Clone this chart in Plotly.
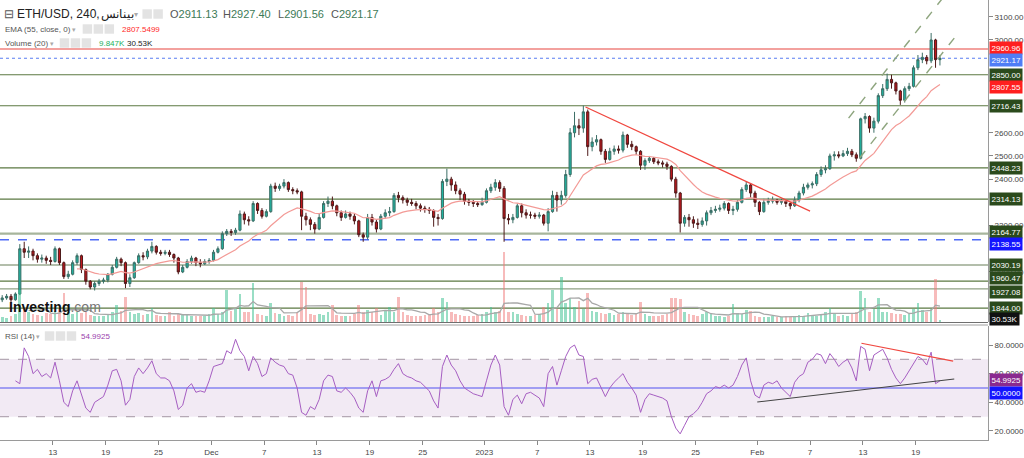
import plotly.graph_objects as go
import pandas as pd

FONT = "Liberation Sans, Arial, sans-serif"

# ---------------- data (12-hour candles) ----------------
first_open = 1880.0
closes = [
    1888, 1895, 1880, 1905, 2100, 2085, 2090, 2070, 2055, 2060,
    2050, 2045, 2100, 2040, 1980, 1990, 2040, 2070, 2010, 1960,
    1935, 1950, 1960, 1965, 1990, 2020, 2055, 2040, 1950, 1975,
    2040, 2070, 2065, 2090, 2110, 2085, 2080, 2085, 2075, 2060,
    2000, 2020, 2045, 2060, 2040, 2035, 2045, 2050, 2085, 2100,
    2165, 2175, 2170, 2180, 2250, 2225, 2220, 2295, 2265, 2240,
    2260, 2370, 2360, 2370, 2385, 2355, 2350, 2345, 2240, 2225,
    2205, 2185, 2235, 2295, 2305, 2285, 2255, 2235, 2250, 2240,
    2220, 2160, 2150, 2235, 2215, 2185, 2240, 2255, 2260, 2330,
    2320, 2310, 2300, 2295, 2285, 2275, 2270, 2265, 2235, 2230,
    2390, 2400, 2375, 2350, 2335, 2305, 2300, 2295, 2290, 2300,
    2350, 2365, 2385, 2360, 2230, 2225, 2235, 2285, 2255, 2245,
    2245, 2240, 2245, 2210, 2260, 2330, 2310, 2330, 2420, 2600,
    2630, 2620, 2690, 2540, 2560, 2570, 2520, 2485, 2520, 2530,
    2525, 2590, 2550, 2540, 2520, 2460, 2480, 2490, 2475, 2470,
    2465, 2455, 2400, 2340, 2210, 2235, 2225, 2210, 2205, 2220,
    2255, 2265, 2270, 2275, 2295, 2265, 2270, 2300, 2355, 2375,
    2340, 2300, 2260, 2300, 2305, 2310, 2300, 2305, 2295, 2285,
    2310, 2340, 2365, 2375, 2380, 2420, 2440, 2445, 2500, 2505,
    2500, 2510, 2520, 2505, 2490, 2660, 2670, 2620, 2650, 2760,
    2790, 2830, 2815, 2780, 2740, 2790, 2800, 2880, 2915, 2925,
    2910, 3000, 2915, 2921.17,
]
highs = [
    1900, 1905, 1905, 1912, 2120, 2130, 2110, 2100, 2080, 2075,
    2070, 2065, 2110, 2105, 2045, 2005, 2050, 2080, 2075, 2015,
    1965, 1960, 1970, 1975, 1995, 2030, 2065, 2062, 2045, 1990,
    2045, 2080, 2085, 2100, 2130, 2115, 2095, 2095, 2095, 2080,
    2065, 2030, 2055, 2070, 2065, 2055, 2055, 2060, 2095, 2110,
    2175, 2185, 2185, 2190, 2265, 2260, 2240, 2305, 2300, 2275,
    2270, 2380, 2385, 2380, 2400, 2390, 2365, 2360, 2350, 2255,
    2235, 2215, 2250, 2305, 2325, 2325, 2290, 2265, 2265, 2260,
    2250, 2225, 2170, 2250, 2250, 2225, 2250, 2270, 2280, 2340,
    2345, 2330, 2320, 2315, 2305, 2295, 2285, 2280, 2270, 2250,
    2400, 2445, 2410, 2390, 2360, 2345, 2315, 2310, 2305, 2320,
    2360, 2380, 2400, 2395, 2370, 2250, 2250, 2295, 2295, 2270,
    2260, 2255, 2258, 2250, 2275, 2350, 2345, 2350, 2440, 2620,
    2690, 2660, 2717, 2700, 2580, 2590, 2575, 2530, 2535, 2545,
    2545, 2605, 2595, 2565, 2545, 2525, 2490, 2500, 2495, 2485,
    2480, 2475, 2460, 2410, 2345, 2245, 2250, 2240, 2230, 2235,
    2265, 2280, 2285, 2290, 2305, 2300, 2285, 2310, 2365, 2390,
    2380, 2350, 2305, 2315, 2320, 2325, 2315, 2315, 2310, 2300,
    2325, 2350, 2380, 2385, 2390, 2430, 2455, 2460, 2510, 2520,
    2520, 2525, 2535, 2530, 2515, 2665, 2685, 2675, 2665, 2770,
    2810, 2855, 2850, 2820, 2785, 2800, 2815, 2890, 2935, 2945,
    2935, 3030, 3005, 2935,
]
lows = [
    1870, 1880, 1868, 1876, 1900, 2060, 2060, 2050, 2040, 2040,
    2035, 2030, 2040, 2030, 1970, 1970, 1985, 2030, 1995, 1945,
    1925, 1920, 1940, 1950, 1955, 1985, 2015, 2025, 1930, 1935,
    1970, 2035, 2050, 2055, 2080, 2075, 2070, 2072, 2065, 2040,
    1990, 1995, 2015, 2035, 2025, 2020, 2030, 2035, 2045, 2080,
    2095, 2155, 2155, 2160, 2175, 2205, 2200, 2215, 2250, 2230,
    2235, 2255, 2345, 2350, 2360, 2345, 2335, 2335, 2180, 2200,
    2180, 2165, 2180, 2230, 2280, 2270, 2240, 2220, 2230, 2225,
    2205, 2150, 2130, 2140, 2200, 2170, 2180, 2230, 2240, 2255,
    2300, 2295, 2285, 2285, 2270, 2260, 2255, 2250, 2195, 2200,
    2225, 2370, 2350, 2335, 2310, 2290, 2285, 2280, 2280, 2285,
    2295, 2340, 2350, 2345, 2130, 2205, 2210, 2230, 2235, 2230,
    2230, 2228, 2230, 2200, 2175, 2255, 2260, 2290, 2320, 2410,
    2580, 2590, 2600, 2500, 2520, 2545, 2505, 2470, 2480, 2505,
    2510, 2515, 2535, 2525, 2505, 2440, 2440, 2470, 2465, 2460,
    2450, 2440, 2390, 2320, 2170, 2195, 2195, 2190, 2185, 2195,
    2200, 2245, 2255, 2260, 2265, 2250, 2245, 2260, 2295, 2345,
    2320, 2280, 2245, 2255, 2290, 2295, 2290, 2290, 2280, 2270,
    2280, 2300, 2330, 2355, 2360, 2370, 2410, 2425, 2440, 2480,
    2490, 2495, 2500, 2495, 2475, 2485, 2640, 2600, 2600, 2640,
    2750, 2780, 2790, 2765, 2720, 2730, 2780, 2795, 2870, 2900,
    2895, 2900, 2880, 2890,
]
volume_k = [
    31, 25, 38, 50, 200, 90, 60, 50, 45, 40,
    55, 50, 70, 80, 180, 60, 50, 60, 56, 60,
    45, 40, 35, 40, 45, 60, 106, 70, 155, 60,
    50, 55, 45, 50, 88, 45, 40, 35, 62, 40,
    50, 45, 50, 40, 35, 40, 35, 50, 88, 50,
    60, 200, 70, 80, 175, 60, 65, 245, 50, 45,
    40, 120, 55, 50, 40, 45, 40, 60, 250, 220,
    50, 45, 50, 45, 60, 106, 45, 40, 35, 40,
    50, 106, 60, 75, 60, 88, 45, 75, 94, 60,
    155, 60, 45, 40, 35, 40, 45, 50, 88, 60,
    150, 125, 60, 50, 45, 40, 35, 40, 45, 50,
    60, 94, 60, 70, 435, 62, 60, 50, 45, 40,
    40, 45, 50, 94, 120, 200, 80, 280, 120, 150,
    94, 130, 80, 180, 70, 60, 55, 50, 55, 45,
    50, 60, 50, 45, 55, 125, 50, 40, 35, 40,
    45, 50, 150, 150, 145, 60, 50, 45, 40, 50,
    62, 55, 40, 35, 30, 35, 110, 55, 50, 75,
    70, 35, 30, 30, 30, 35, 30, 30, 35, 30,
    35, 45, 40, 56, 45, 40, 50, 62, 88, 50,
    40, 45, 40, 50, 60, 195, 150, 60, 80, 150,
    60, 62, 55, 50, 50, 45, 50, 80, 120, 75,
    60, 80, 270, 9.847,
]
rsi_values = [
    None, None, None, 55, 53, 78, 72, 60, 63, 58,
    60, 57, 68, 55, 40, 37, 48, 55, 45, 36,
    33, 40, 42, 44, 52, 62, 63, 55, 38, 42,
    58, 64, 60, 64, 69, 60, 57, 57, 55, 48,
    35, 38, 50, 53, 47, 48, 47, 55, 65, 66,
    67, 76, 74, 84, 76, 72, 62, 72, 67, 58,
    60, 71, 68, 66, 65, 60, 59, 50, 33, 31,
    37, 35, 42, 55, 59, 58, 48, 47, 50, 47,
    43, 36, 33, 48, 55, 44, 55, 56, 58, 63,
    67, 60, 58, 57, 55, 54, 51, 48, 41, 36,
    65, 73, 66, 62, 55, 50, 48, 46, 45, 44,
    55, 66, 73, 66, 37, 31, 42, 45, 39, 46,
    47, 45, 43, 37, 60, 65, 52, 62, 72, 78,
    80, 73, 72, 53, 56, 57, 50, 44, 50, 54,
    57, 60, 54, 50, 45, 33, 42, 46, 45, 44,
    43, 41, 30, 22, 18, 24, 30, 32, 35, 40,
    46, 48, 51, 50, 52, 50, 52, 58, 66, 71,
    55, 45, 43, 52, 54, 53, 55, 50, 47, 44,
    54, 58, 60, 68, 70, 74, 73, 67, 74, 70,
    65, 68, 70, 64, 55, 79, 77, 62, 73, 75,
    77, 71, 63, 57, 53, 57, 62, 67, 72, 70,
    66, 75, 53, 54.9925,
]

level_prices = [2960.96, 2921.17, 2850.00, 2716.43, 2448.23, 2314.13,
                2164.77, 2138.55, 2030.19, 1960.47, 1927.08, 1844.00]
ema_last = 2807.5499
vol_ma_last = 30.53
price_ticks = [2000, 2200, 2400, 2500, 2600, 3000, 3100]
rsi_ticks = [20, 40, 60, 80]
x_tick_dates = ["2022-11-13", "2022-11-19", "2022-11-25", "2022-12-01", "2022-12-07",
                "2022-12-13", "2022-12-19", "2022-12-25", "2023-01-01", "2023-01-07",
                "2023-01-13", "2023-01-19", "2023-01-25", "2023-02-01", "2023-02-07",
                "2023-02-13", "2023-02-19"]
x_tick_labels = ["13", "19", "25", "Dec", "7", "13", "19", "25", "2023", "7",
                 "13", "19", "25", "Feb", "7", "13", "19"]

downtrend_dates = ["2023-01-12 12:00", "2023-02-07 00:00"]
downtrend_prices = [2711, 2262]
channel_upper_dates = ["2023-02-11 09:00", "2023-02-23 14:00"]
channel_upper_prices = [2663, 3254]
channel_lower_dates = ["2023-02-12 15:00", "2023-02-23 09:00"]
channel_lower_prices = [2491, 3008]
rsi_res_dates = ["2023-02-12 20:00", "2023-02-23 06:00"]
rsi_res_values = [81.2, 68.8]
rsi_sup_dates = ["2023-02-01 00:00", "2023-02-23 09:00"]
rsi_sup_values = [40.2, 56.3]

# ---------------- derived ----------------
dates = pd.date_range("2022-11-07 06:00", periods=len(closes), freq="12h")
opens = [first_open] + closes[:-1]
highs = [max(h, o, c) for h, o, c in zip(highs, opens, closes)]
lows = [min(l, o, c) for l, o, c in zip(lows, opens, closes)]
ema_alpha = 1 - (1 - 2 / 56) ** 3          # EMA(55) on 4h bars, expressed on 12h bars
ema = pd.Series(closes).ewm(alpha=ema_alpha, adjust=False).mean()
vol_ma = pd.Series(volume_k).rolling(7).mean()
vol_colors = ["rgba(70,195,150,0.55)" if c >= o else "rgba(240,120,120,0.5)"
              for o, c in zip(opens, closes)]

# ---------------- geometry helpers ----------------
W, H = 992, 440


def px(x):
    return x / W


def py(y):
    return (H - y) / H


MAIN_DOM = [py(322), 1.0]
RSI_DOM = [0.0, py(326)]

fig = go.Figure()

fig.add_trace(go.Bar(x=dates, y=volume_k, marker=dict(color=vol_colors, line=dict(width=0)),
                     width=0.6 * 12 * 3600 * 1000, yaxis="y2", showlegend=False,
                     hoverinfo="skip"))
fig.add_trace(go.Scatter(x=dates[6:], y=vol_ma[6:], mode="lines", yaxis="y2",
                         line=dict(color="#a8a8a8", width=1.3), showlegend=False,
                         hoverinfo="skip"))
fig.add_trace(go.Scatter(x=dates[17:], y=ema[17:], mode="lines", yaxis="y",
                         line=dict(color="#f39a96", width=1.2), showlegend=False,
                         hoverinfo="skip"))
fig.add_trace(go.Candlestick(
    x=dates, open=opens, high=highs, low=lows, close=closes, yaxis="y",
    increasing=dict(line=dict(color="#3c6e66", width=1), fillcolor="#1fb3a0"),
    decreasing=dict(line=dict(color="#4e1a1a", width=1), fillcolor="#c0161c"),
    whiskerwidth=0, showlegend=False, hoverinfo="skip"))
fig.add_trace(go.Scatter(x=downtrend_dates, y=downtrend_prices, mode="lines", yaxis="y",
                         line=dict(color="#f0473f", width=1.3), showlegend=False))
for xs, ys in [(channel_upper_dates, channel_upper_prices),
               (channel_lower_dates, channel_lower_prices)]:
    fig.add_trace(go.Scatter(x=xs, y=ys, mode="lines", yaxis="y",
                             line=dict(color="#8ea57e", width=1.4, dash="dash"),
                             showlegend=False))

fig.add_trace(go.Scatter(x=dates, y=rsi_values, mode="lines", yaxis="y3",
                         line=dict(color="#a65ec2", width=1), showlegend=False,
                         hoverinfo="skip"))
fig.add_trace(go.Scatter(x=rsi_res_dates, y=rsi_res_values, mode="lines", yaxis="y3",
                         line=dict(color="#f0473f", width=1.2), showlegend=False))
fig.add_trace(go.Scatter(x=rsi_sup_dates, y=rsi_sup_values, mode="lines", yaxis="y3",
                         line=dict(color="#444444", width=1.1), showlegend=False))

# ---------------- shapes ----------------
shapes = []
level_style = {
    2960.96: dict(color="#e8443f", width=1.2, dash="solid"),
    2921.17: dict(color="#5a7ef2", width=1.2, dash="dot"),
    2164.77: dict(color="#a7b59c", width=2.2, dash="solid"),
    2138.55: dict(color="#4f6bf7", width=1.5, dash="dash"),
    2030.19: dict(color="#9aa98f", width=1.6, dash="solid"),
    1927.08: dict(color="#8fa183", width=1.4, dash="solid"),
}
default_level = dict(color="#5b7842", width=1.2, dash="solid")
for p in level_prices:
    st = level_style.get(p, default_level)
    shapes.append(dict(type="line", xref="paper", yref="y", x0=0, x1=1, y0=p, y1=p,
                       line=st, layer="below"))

# RSI band
shapes.append(dict(type="rect", xref="paper", yref="y3", x0=0, x1=1, y0=30, y1=70,
                   fillcolor="rgba(150,80,165,0.12)", line=dict(width=0), layer="below"))
for v in (70, 30):
    shapes.append(dict(type="line", xref="paper", yref="y3", x0=0, x1=1, y0=v, y1=v,
                       line=dict(color="#b5a9b5", width=1.2, dash="dash"), layer="below"))
shapes.append(dict(type="line", xref="paper", yref="y3", x0=0, x1=1, y0=50, y1=50,
                   line=dict(color="#5050f0", width=1.2), layer="below"))

# panel separator
shapes.append(dict(type="line", xref="paper", yref="paper", x0=0, x1=1,
                   y0=py(322.5), y1=py(322.5), line=dict(color="#6f6f6f", width=1.2)))
shapes.append(dict(type="line", xref="paper", yref="paper", x0=0, x1=1,
                   y0=py(325), y1=py(325), line=dict(color="#a0a0a0", width=1)))

# small header icon boxes
icon_boxes = [(143, 14), (154, 14),
              (83, 29), (94, 29), (105, 29),
              (60, 43), (71, 43), (82, 43),
              (45, 336), (56, 336), (67, 336)]
for bx, by in icon_boxes:
    shapes.append(dict(type="rect", xref="paper", yref="paper",
                       x0=px(bx), x1=px(bx + 9.5), y0=py(by + 4.7), y1=py(by - 4.7),
                       fillcolor="#e3e3e3", line=dict(width=0)))

# ---------------- annotations ----------------
ann = []


def text(x, y, s, size, color, **kw):
    d = dict(xref="paper", yref="paper", x=px(x), y=py(y), xanchor="left",
             yanchor="middle", text=s, showarrow=False,
             font=dict(size=size, color=color, family=FONT))
    d.update(kw)
    ann.append(d)


GV = "#3d7a57"
text(2, 14, "⊟", 12, "#555")
text(15, 14, "ETH/USD, 240,", 12, "#222")
text(99, 14, "بينانس", 12, "#222")
text(133, 15, "▾", 8, "#aaa")
text(169, 14, f"O<span style='color:{GV}'>2911.13</span>", 11, "#555")
text(222, 14, f"H<span style='color:{GV}'>2927.40</span>", 11, "#555")
text(277, 14, f"L<span style='color:{GV}'>2901.56</span>", 11, "#555")
text(330, 14, f"C<span style='color:{GV}'>2921.17</span>", 11, "#555")

text(3, 29, "EMA (55, close, 0)", 8, "#555")
text(70, 29, "▾", 7, "#aaa")
text(120, 29, f"{ema_last:.4f}", 8, "#ff2a2a")

text(3, 43, "Volume (20)", 8, "#555")
text(48, 43, "▾", 7, "#aaa")
text(97, 43, "9.847K", 8, "#25b060")
text(126, 43, f"{vol_ma_last:.2f}K", 8, "#222")

text(3, 336, "RSI (14)", 8, "#555")
text(34, 336, "▾", 7, "#aaa")
text(79, 336, "54.9925", 8, "#9b3fae")

text(7, 307, "<b>Investing</b><span style='color:#777'>.com</span>", 14, "#111")

# right-hand price labels (small vertical nudges keep neighbouring boxes apart)
label_bg = {2960.96: "#ff1f1f", 2921.17: "#4f7df5", 2138.55: "#1414ff"}
label_nudge = {2960.96: 1, 2921.17: -2, 2164.77: 2, 2138.55: -4,
               1960.47: 3, 1927.08: -3}
for p in level_prices:
    ann.append(dict(xref="paper", yref="y", x=1, y=p, xanchor="left", yanchor="middle",
                    xshift=1, yshift=label_nudge.get(p, 0), text=f"{p:.2f}", showarrow=False,
                    bgcolor=label_bg.get(p, "#2b4a1c"),
                    borderpad=1.5, font=dict(size=8, color="white", family=FONT)))
ann.append(dict(xref="paper", yref="y", x=1, y=ema_last, xanchor="left", yanchor="middle",
                xshift=1, yshift=-2, text=f"{ema_last:.2f}", showarrow=False, bgcolor="#ff1f1f",
                borderpad=1.5, font=dict(size=8, color="white", family=FONT)))
ann.append(dict(xref="paper", yref="y2", x=1, y=vol_ma_last, xanchor="left", yanchor="middle",
                xshift=1, yshift=-2, text=f"{vol_ma_last:.2f}K", showarrow=False, bgcolor="#111111",
                borderpad=1.5, font=dict(size=8, color="white", family=FONT)))
ann.append(dict(xref="paper", yref="y3", x=1, y=rsi_values[-1], xanchor="left", yanchor="middle",
                xshift=1, yshift=1, text=f"{rsi_values[-1]:.4f}", showarrow=False, bgcolor="#8a2a8f",
                borderpad=1.5, font=dict(size=8, color="white", family=FONT)))
ann.append(dict(xref="paper", yref="y3", x=1, y=50, xanchor="left", yanchor="middle",
                xshift=1, yshift=-5, text="50.0000", showarrow=False, bgcolor="#1414ff",
                borderpad=1.5, font=dict(size=8, color="white", family=FONT)))

# ---------------- layout ----------------
price_top = 2960.96 + 49 / 0.232
price_bot = price_top - 322 / 0.232
rsi_top = 80 + 19 / 1.433
rsi_bot = rsi_top - 114 / 1.433

axis_common = dict(showgrid=False, zeroline=False, ticks="outside", ticklen=4,
                   tickcolor="#888", tickfont=dict(size=8, color="#444", family=FONT),
                   showline=True, linecolor="#9a9a9a", linewidth=1)

fig.update_layout(
    width=1024, height=458,
    margin=dict(l=0, r=32, t=0, b=18),
    paper_bgcolor="white", plot_bgcolor="white",
    font=dict(family=FONT),
    showlegend=False, hovermode=False,
    bargap=0,
    xaxis=dict(domain=[0, 1], anchor="y3", type="date",
               range=["2022-11-07 00:00", "2023-02-27 05:00"],
               tickmode="array", tickvals=x_tick_dates, ticktext=x_tick_labels,
               rangeslider=dict(visible=False), **axis_common),
    yaxis=dict(domain=MAIN_DOM, anchor="x", side="right", range=[price_bot, price_top],
               tickmode="array", tickvals=price_ticks, tickformat=".2f", **axis_common),
    yaxis2=dict(overlaying="y", anchor="x", side="right", range=[0, 450 * 322 / 72],
                visible=False),
    yaxis3=dict(domain=RSI_DOM, anchor="x", side="right", range=[rsi_bot, rsi_top],
                tickmode="array", tickvals=rsi_ticks, tickformat=".4f", **axis_common),
    shapes=shapes,
    annotations=ann,
)

fig.write_html("out.html", config={"displayModeBar": False})
